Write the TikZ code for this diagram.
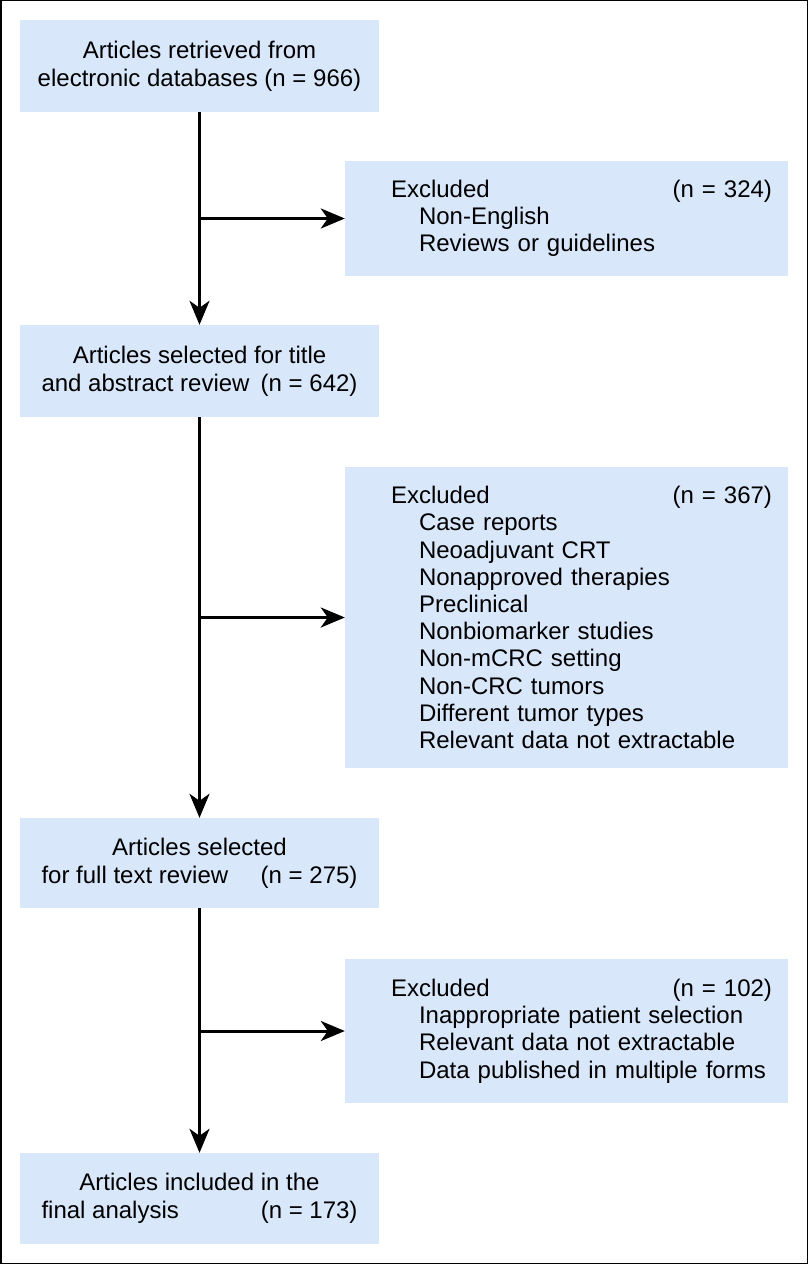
\documentclass[tikz,border=0pt]{standalone}
\usepackage{fontspec}
\setmainfont{Liberation Sans}
\usetikzlibrary{arrows.meta}
\definecolor{boxblue}{RGB}{217,231,250}
\newcommand{\exclhead}[1]{\hspace*{30pt}\hbox to 381pt{Excluded\hfill(n = #1)}}
\newcommand{\exclitem}{\hspace*{58pt}}
\begin{document}
\begin{tikzpicture}[
            x=1pt, y=-1pt,
            main box/.style={rectangle,fill=boxblue,font=\fontsize{24}{28}\selectfont,align=center,
                inner sep=0pt,minimum width=359pt},
            excl box/.style={rectangle,fill=boxblue,font=\fontsize{24}{27.2}\selectfont,align=left,
                inner xsep=16pt,inner ysep=0pt,text width=411pt},
            every edge/.style={draw,line width=3pt,-{Stealth[length=24pt,width=20pt,inset=7pt]}},
        ]
            \useasboundingbox (0,0) rectangle (809,1265);
            \draw[line width=1.5pt] (0.75,0.75) rectangle (807.5,1263.5);

            % left column
            \node[main box,minimum height=92pt] (retr) at (199.5, 66)
                {Articles retrieved from\\electronic databases (n = 966)};
            \node[main box,minimum height=92pt] (titleabs) at (199.5, 371)
                {Articles selected for title\\\hbox to 316pt{and abstract review\hfill(n = 642)}};
            \node[main box,minimum height=90pt] (fulltext) at (199.5, 863)
                {Articles selected\\\hbox to 316pt{for full text review\hfill(n = 275)}};
            \node[main box,minimum height=91pt] (incl) at (199.5, 1198.5)
                {Articles included in the\\\hbox to 316pt{final analysis\hfill(n = 173)}};

            % exclusions
            \node[excl box,minimum height=115pt] (excl1) at (566.5, 218.5)
                {\exclhead{324}\\
                 \exclitem Non-English\\
                 \exclitem Reviews or guidelines};
            \node[excl box,minimum height=301pt] (excl2) at (566.5, 617.5)
                {\exclhead{367}\\
                 \exclitem Case reports\\
                 \exclitem Neoadjuvant CRT\\
                 \exclitem Nonapproved therapies\\
                 \exclitem Preclinical\\
                 \exclitem Nonbiomarker studies\\
                 \exclitem Non-mCRC setting\\
                 \exclitem Non-CRC tumors\\
                 \exclitem Different tumor types\\
                 \exclitem Relevant data not extractable};
            \node[excl box,minimum height=144pt] (excl3) at (566.5, 1031)
                {\exclhead{102}\\
                 \exclitem Inappropriate patient selection\\
                 \exclitem Relevant data not extractable\\
                 \exclitem Data published in multiple forms};

            \path (retr) edge (titleabs);
            \path (titleabs) edge (fulltext);
            \path (fulltext) edge (incl);
            \path (retr.south |- excl1.west) edge (excl1.west);
            \path (titleabs.south |- excl2.west) edge (excl2.west);
            \path (fulltext.south |- excl3.west) edge (excl3.west);
        \end{tikzpicture}
\end{document}
